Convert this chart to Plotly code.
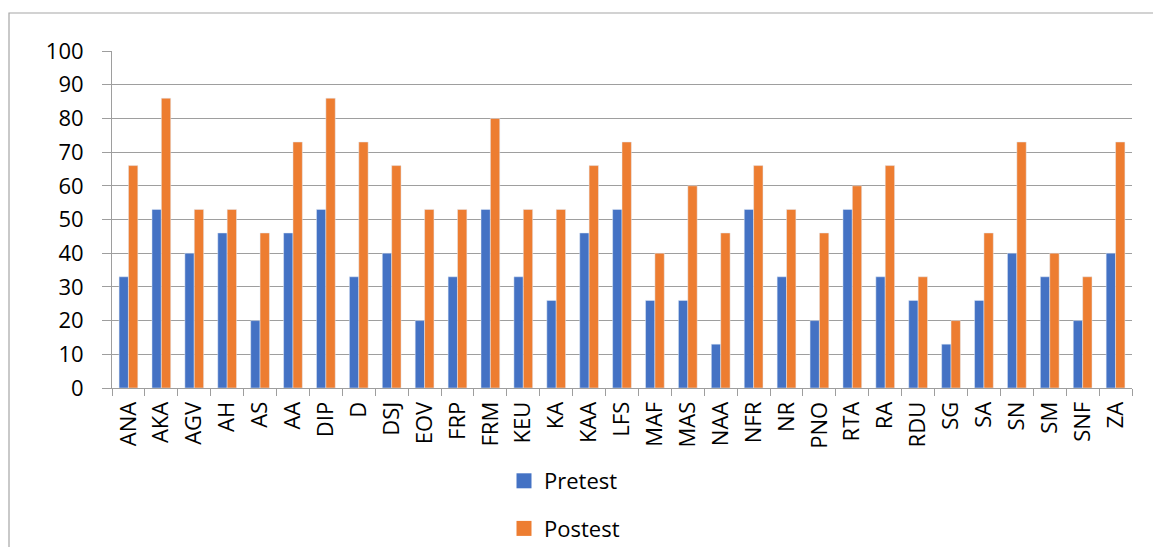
import plotly.graph_objects as go

# Participant codes and test scores
students = ["ANA", "AKA", "AGV", "AH", "AS", "AA", "DIP", "D", "DSJ", "EOV",
            "FRP", "FRM", "KEU", "KA", "KAA", "LFS", "MAF", "MAS", "NAA", "NFR",
            "NR", "PNO", "RTA", "RA", "RDU", "SG", "SA", "SN", "SM", "SNF", "ZA"]
pretest = [33, 53, 40, 46, 20, 46, 53, 33, 40, 20,
           33, 53, 33, 26, 46, 53, 26, 26, 13, 53,
           33, 20, 53, 33, 26, 13, 26, 40, 33, 20, 40]
postest = [66, 86, 53, 53, 46, 73, 86, 73, 66, 53,
           53, 80, 53, 53, 66, 73, 40, 60, 46, 66,
           53, 46, 60, 66, 33, 20, 46, 73, 40, 33, 73]
y_ticks = [0, 10, 20, 30, 40, 50, 60, 70, 80, 90, 100]
series_names = ["Pretest", "Postest"]

W, H = 1153, 547
ML, MR, MT, MB = 112, 21, 51, 159
PW, PH = W - ML - MR, H - MT - MB

BLUE = "#4472C4"
ORANGE = "#ED7D31"
GRID = "#9E9E9E"
FONT = "Open Sans"

fig = go.Figure()
for name, vals, col in zip(series_names, [pretest, postest], [BLUE, ORANGE]):
    fig.add_trace(go.Bar(name=name, x=students, y=vals, marker_color=col,
                         legendgroup=name, showlegend=False))
    # square legend key for the series
    fig.add_trace(go.Scatter(name=name, x=[None], y=[None], mode="markers",
                             marker=dict(symbol="square", size=15, color=col),
                             legendgroup=name, showlegend=True))


def px_x(p):
    return (p - ML) / PW


def px_y(p):
    return (H - MB - p) / PH


# outer chart frame (runs off the right and bottom edges)
fig.add_shape(type="rect", xref="paper", yref="paper",
              x0=px_x(9), x1=px_x(1200), y0=px_y(600), y1=px_y(13),
              line=dict(color="#A6A6A6", width=1.2), fillcolor="rgba(0,0,0,0)",
              layer="below")

fig.update_layout(
    width=W, height=H,
    margin=dict(l=ML, r=MR, t=MT, b=MB, autoexpand=False),
    paper_bgcolor="white", plot_bgcolor="white",
    barmode="group", bargap=0.43, bargroupgap=0,
    font=dict(family=FONT, size=22, color="black"),
    showlegend=True,
    legend=dict(orientation="v", x=px_x(504), xanchor="left",
                y=px_y(460), yanchor="top",
                font=dict(family=FONT, size=22, color="black"),
                tracegroupgap=16, itemwidth=30, bgcolor="rgba(0,0,0,0)"),
    xaxis=dict(type="category", tickangle=-90, tickson="boundaries",
               ticks="outside", ticklen=7, tickcolor=GRID, tickwidth=1,
               showline=True, linecolor=GRID, linewidth=1,
               showgrid=False, tickfont=dict(family=FONT, size=22),
               ticklabelstandoff=4),
    yaxis=dict(range=[0, 100], tickvals=y_ticks, ticks="outside", ticklen=9,
               tickcolor=GRID, tickwidth=1, showline=True, linecolor=GRID,
               linewidth=1, showgrid=True, gridcolor=GRID, gridwidth=1,
               zeroline=False, tickfont=dict(family=FONT, size=22),
               ticklabelstandoff=14),
)

fig.write_html("out.html")
